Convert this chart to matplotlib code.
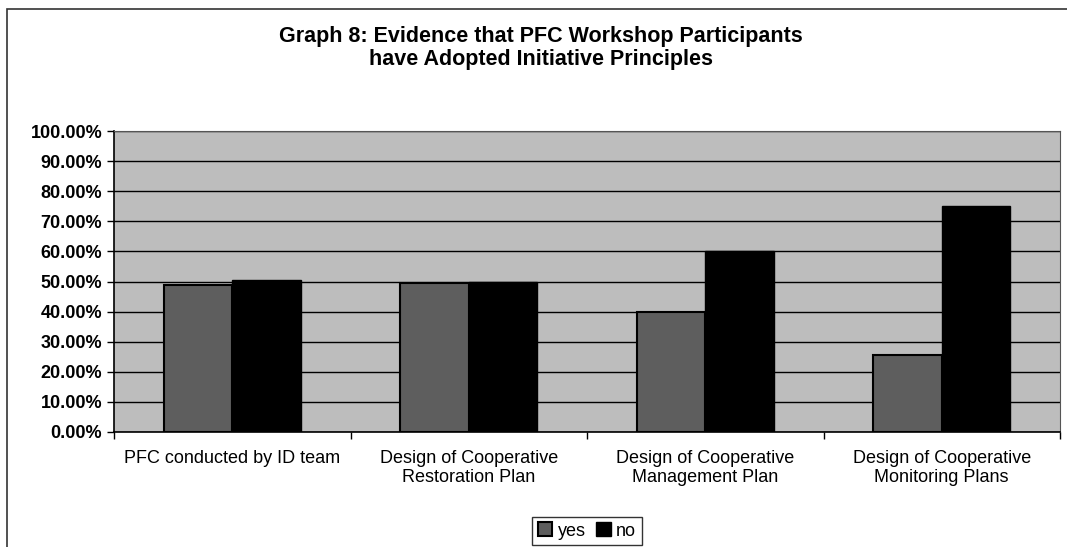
import matplotlib
matplotlib.use("Agg")
import matplotlib.pyplot as plt
import numpy as np
from matplotlib.patches import Rectangle
from matplotlib.ticker import PercentFormatter, MultipleLocator

categories = ["PFC conducted by ID team",
              "Design of Cooperative\nRestoration Plan",
              "Design of Cooperative\nManagement Plan",
              "Design of Cooperative\nMonitoring Plans"]
yes_vals = [49.0, 49.5, 40.0, 25.5]
no_vals = [50.5, 50.0, 60.0, 75.0]
series_names = ["yes", "no"]

plt.rcParams['font.family'] = ['Liberation Sans', 'DejaVu Sans']

fig = plt.figure(figsize=(10.67, 5.47), dpi=100)
ax = fig.add_axes([114/1067, 1-432/547, (1060-114)/1067, (432-131)/547])

x = np.arange(len(categories))
w = 0.29
ax.set_facecolor('#bdbdbd')
ax.bar(x - w/2, yes_vals, w, color='#5e5e5e', edgecolor='black', linewidth=1.5,
       label=series_names[0], zorder=3)
ax.bar(x + w/2, no_vals, w, color='black', edgecolor='black', linewidth=1.0,
       label=series_names[1], zorder=3)

ax.set_xlim(-0.5, len(categories) - 0.5)
ax.set_ylim(0, 100)
ax.yaxis.set_major_locator(MultipleLocator(10))
ax.yaxis.set_major_formatter(PercentFormatter(decimals=2))
ax.grid(axis='y', color='black', linewidth=1.0, zorder=1)
ax.set_axisbelow(True)

ax.set_xticks(np.arange(len(categories) + 1) - 0.5, minor=False)
ax.set_xticklabels([])
ax.set_xticks(x, minor=True)
ax.set_xticklabels(categories, minor=True, fontsize=13, linespacing=1.15)
ax.tick_params(axis='x', which='minor', length=0, pad=13)
ax.tick_params(axis='x', which='major', length=5, direction='out', width=1)
ax.tick_params(axis='y', labelsize=13, length=5, width=1)
for lab in ax.get_yticklabels():
    lab.set_fontweight('bold')

for s in ['top', 'right']:
    ax.spines[s].set_color('#555555')
    ax.spines[s].set_linewidth(0.8)
for s in ['left', 'bottom']:
    ax.spines[s].set_color('black')
    ax.spines[s].set_linewidth(1.2)

fig.text(541/1067, 1-48/547, "Graph 8: Evidence that PFC Workshop Participants\nhave Adopted Initiative Principles",
         ha='center', va='center', fontsize=15.5, fontweight='bold', linespacing=1.1)

leg = fig.legend(loc='center', bbox_to_anchor=(587/1067, 1-531/547), ncol=2,
                 fontsize=13, frameon=True, fancybox=False, edgecolor='black',
                 handlelength=0.8, handleheight=0.8, handletextpad=0.3,
                 columnspacing=0.6, borderpad=0.3)
leg.get_frame().set_linewidth(1.0)

fig.patches.append(Rectangle((7/1067, -0.01), 1.2, 1 - 9/547 + 0.01,
                             transform=fig.transFigure, fill=False,
                             edgecolor='#333333', linewidth=1.2))

fig.savefig("out.png", dpi=100)
